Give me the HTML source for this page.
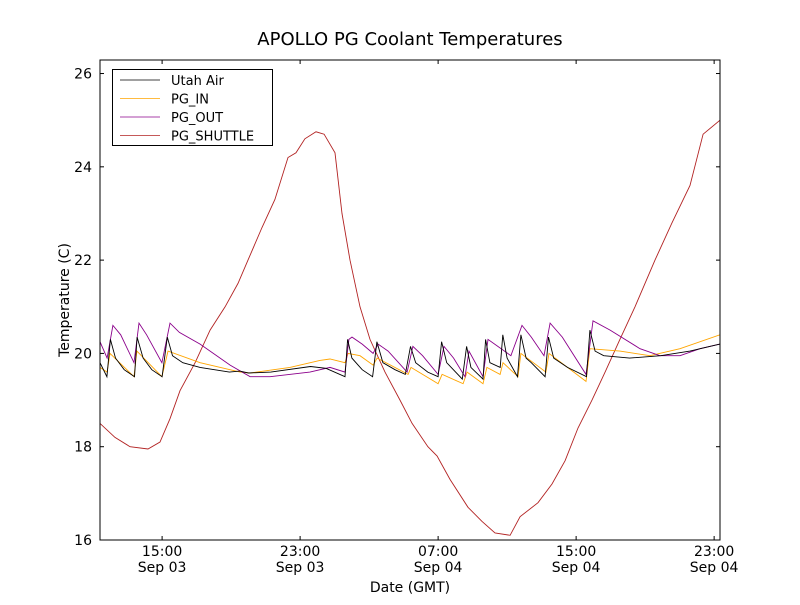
<!DOCTYPE html>
<html><head><meta charset="utf-8"><style>
body{margin:0;background:#fff}
svg{font-family:"DejaVu Sans","Liberation Sans",sans-serif}
</style></head><body>
<svg id="chart" width="800" height="600"></svg>
<script>
const tickHours=[15,23,31,39,47];
const tickTimes=["15:00","23:00","07:00","15:00","23:00"];
const tickDates=["Sep 03","Sep 03","Sep 04","Sep 04","Sep 04"];
const yTicks=[16,18,20,22,24,26];
const seriesNames=["Utah Air","PG_IN","PG_OUT","PG_SHUTTLE"];
const seriesColors=["#000000","#ffa500","#8b008b","#b22222"];
const airT=[11.4,11.8,12.0,12.3,12.8,13.4,13.55,13.9,14.4,15.0,15.3,15.6,16.2,17.2,18.9,19.5,20.0,21.3,23.6,24.5,25.6,25.75,26.0,26.6,27.2,27.45,27.8,28.5,29.1,29.4,29.7,30.4,31.0,31.2,31.5,32.4,32.65,32.9,33.6,33.75,34.0,34.6,34.75,35.0,35.6,35.8,36.1,36.4,37.2,37.4,37.7,38.5,39.6,39.8,40.1,40.6,42.1,43.9,45.6,47.34];
const airV=[19.8,19.5,20.3,19.9,19.65,19.5,20.35,19.9,19.65,19.5,20.35,19.95,19.8,19.7,19.6,19.62,19.58,19.6,19.72,19.68,19.5,20.3,19.9,19.65,19.5,20.25,19.8,19.65,19.55,20.15,19.8,19.6,19.5,20.25,19.8,19.45,20.15,19.7,19.45,20.3,19.8,19.7,20.4,19.9,19.5,20.4,19.9,19.8,19.5,20.35,19.9,19.7,19.5,20.5,20.05,19.95,19.9,19.95,20.05,20.2];
const inT=[11.4,11.81,11.98,13.37,13.54,14.99,15.34,17.2,19.52,20.1,22.41,24.15,24.73,25.6,25.78,26.47,27.23,27.46,29.26,29.43,31.0,31.23,32.45,32.68,33.6,33.83,34.59,34.76,35.63,35.8,37.25,37.43,39.57,39.8,41.54,43.28,45.02,47.34];
const inV=[19.7,19.6,20.0,19.5,20.05,19.5,20.05,19.8,19.6,19.58,19.7,19.85,19.88,19.8,20.0,19.95,19.75,19.9,19.55,19.7,19.35,19.55,19.35,19.6,19.35,19.7,19.55,19.8,19.5,20.0,19.6,20.0,19.4,20.1,20.05,19.95,20.1,20.4];
const outT=[11.4,11.81,12.15,12.6,13.37,13.66,14.1,14.99,15.46,16.0,17.2,18.94,20.1,21.26,23.57,24.73,25.6,25.83,26.01,26.6,27.23,27.52,28.1,29.2,29.54,30.1,31.0,31.34,31.9,32.56,32.79,33.6,33.89,35.22,35.86,36.4,37.14,37.49,38.2,39.57,39.98,40.97,42.7,43.86,45.02,46.18,47.34];
const outV=[20.25,19.9,20.6,20.4,19.8,20.65,20.4,19.8,20.65,20.45,20.2,19.75,19.5,19.5,19.6,19.7,19.6,20.3,20.35,20.2,20.0,20.2,20.05,19.6,20.15,19.95,19.55,20.15,19.9,19.5,20.05,19.5,20.3,19.95,20.6,20.35,19.95,20.65,20.35,19.55,20.7,20.5,20.1,19.95,19.95,20.1,20.2];
const shT=[11.4,12.27,13.14,14.18,14.88,15.46,16.04,16.91,17.78,18.65,19.4,19.98,20.79,21.54,22.3,22.76,23.28,23.92,24.39,25.02,25.43,25.89,26.47,27.05,27.92,28.79,29.49,30.41,30.94,31.69,32.73,33.54,34.3,35.17,35.75,36.79,37.6,38.36,39.11,39.92,40.68,41.54,42.41,43.57,44.56,45.6,46.36,47.34];
const shV=[18.5,18.2,18.0,17.95,18.1,18.6,19.2,19.8,20.5,21.0,21.5,22.0,22.7,23.3,24.2,24.3,24.6,24.75,24.7,24.3,23.0,22.0,21.0,20.3,19.6,19.0,18.5,18.0,17.8,17.3,16.7,16.4,16.15,16.1,16.5,16.8,17.2,17.7,18.4,19.0,19.6,20.3,21.0,22.0,22.8,23.6,24.7,25.0];

const L=100,R=720,T=60,B=540,XMIN=11.4,XMAX=47.34,YMIN=16,YMAX=26.29;
const xs=h=>L+(h-XMIN)/(XMAX-XMIN)*(R-L);
const ys=v=>B-(v-YMIN)/(YMAX-YMIN)*(B-T);
const svg=document.getElementById('chart');
const NS='http://www.w3.org/2000/svg';
function mk(tag,attrs,parent){const e=document.createElementNS(NS,tag);for(const k in attrs)e.setAttribute(k,attrs[k]);(parent||svg).appendChild(e);return e;}

const title=mk('text',{x:410,y:45,'text-anchor':'middle','font-size':'18'});
title.textContent='APOLLO PG Coolant Temperatures';



const clip=mk('clipPath',{id:'pc'});mk('rect',{x:L,y:T,width:R-L,height:B-T},clip);
const series=[[airT,airV],[inT,inV],[outT,outV],[shT,shV]];
const order=[3,1,2,0];
order.forEach(i=>{
  const [t,v]=series[i];
  const d=t.map((h,j)=>(j?'L':'M')+xs(h).toFixed(1)+','+ys(v[j]).toFixed(1)).join('');
  const p=mk('path',{d:d,fill:'none',stroke:seriesColors[i],'stroke-width':'0.9','clip-path':'url(#pc)'});
  
  
});

const frame=mk('rect',{x:L,y:T,width:R-L,height:B-T,fill:'none',stroke:'#000','stroke-width':'1'});



tickHours.forEach((h,i)=>{
  const x=xs(h);
  mk('line',{x1:x,x2:x,y1:B,y2:B-4,stroke:'#000'});
  mk('line',{x1:x,x2:x,y1:T,y2:T+4,stroke:'#000'});
  const t=mk('text',{x:x,y:B+16,'text-anchor':'middle','font-size':'14'});
  t.textContent=tickTimes[i];
  
  
  const t2=mk('text',{x:x,y:B+32,'text-anchor':'middle','font-size':'14'});
  t2.textContent=tickDates[i];
  
  
});
yTicks.forEach(v=>{
  const y=ys(v);
  mk('line',{x1:L,x2:L+4,y1:y,y2:y,stroke:'#000'});
  mk('line',{x1:R,x2:R-4,y1:y,y2:y,stroke:'#000'});
  const t=mk('text',{x:L-8,y:y+5,'text-anchor':'end','font-size':'14'});
  t.textContent=v;
  
  
});
const xt=mk('text',{x:410,y:592,'text-anchor':'middle','font-size':'14'});
xt.textContent='Date (GMT)';


const yt=mk('text',{x:0,y:0,'text-anchor':'middle','font-size':'14',transform:'translate(69,300) rotate(-90)'});
yt.textContent='Temperature (C)';



const lg=mk('g',{});


mk('rect',{x:112.5,y:69.5,width:160,height:76,fill:'#fff',stroke:'#000','stroke-width':'1'},lg);
seriesNames.forEach((n,i)=>{
  const y=80+i*18.5;
  const ln=mk('line',{x1:120,x2:160,y1:y,y2:y,stroke:seriesColors[i],'stroke-width':'0.7'},lg);
  
  
  const t=mk('text',{x:171,y:y+5,'font-size':'13'},lg);
  t.textContent=n;
  
  
});
</script>
</body></html>
